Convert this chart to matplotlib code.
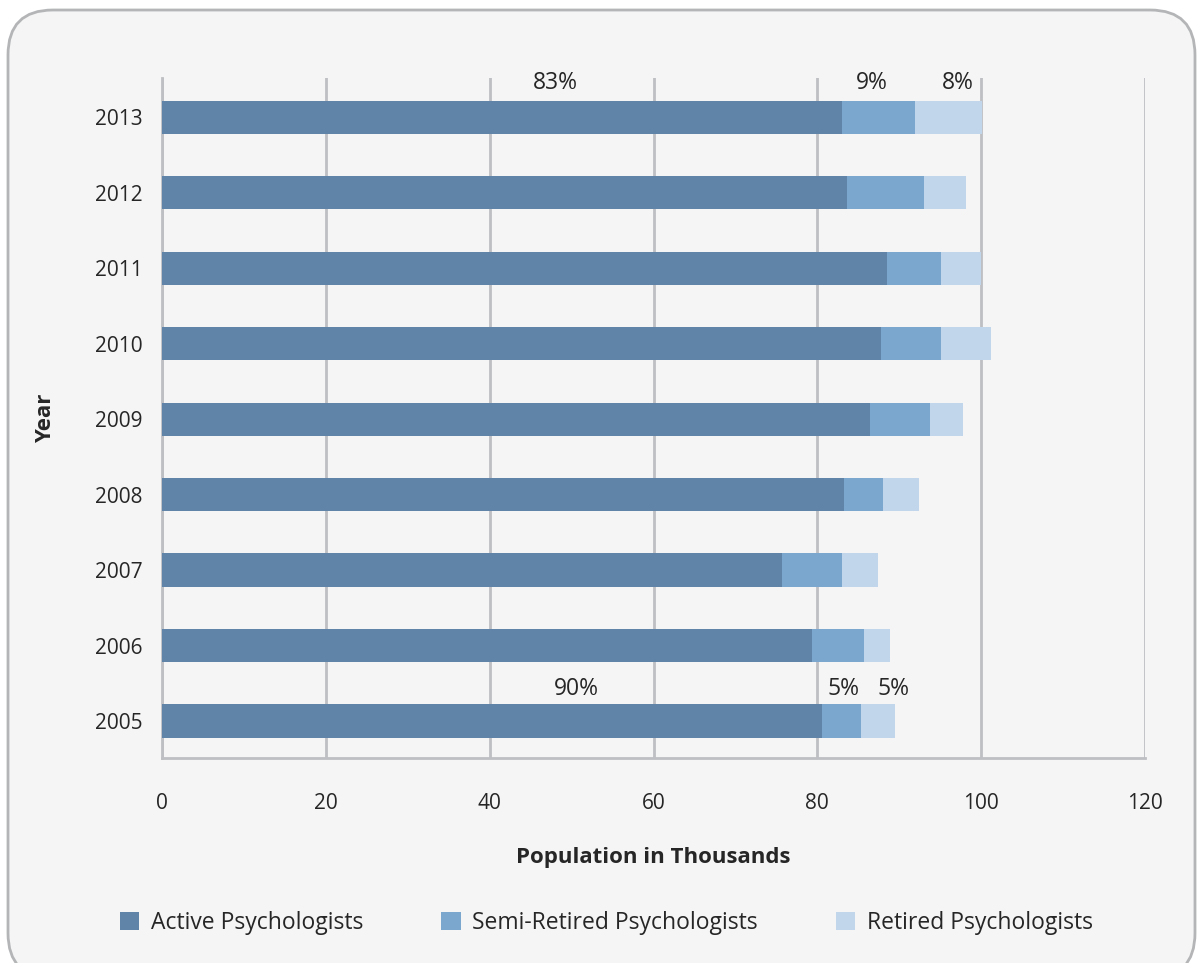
import matplotlib.pyplot as plt
from matplotlib.patches import FancyBboxPatch

# data (thousands)
years = ["2005", "2006", "2007", "2008", "2009", "2010", "2011", "2012", "2013"]
active = [80.6, 79.4, 75.7, 83.3, 86.4, 87.8, 88.5, 83.6, 83.0]
semi_retired = [4.7, 6.3, 7.3, 4.7, 7.3, 7.3, 6.6, 9.4, 8.9]
retired = [4.2, 3.2, 4.4, 4.4, 4.1, 6.1, 4.9, 5.2, 8.2]

# share labels shown above the first and last bars
pct_2005 = ["90%", "5%", "5%"]
pct_2005_x = [50.6, 83.2, 89.3]
pct_2013 = ["83%", "9%", "8%"]
pct_2013_x = [48.0, 86.7, 97.1]

col_active = "#5F84A8"
col_semi = "#7BA7CF"
col_ret = "#C1D6EA"
bg = "#F4F5F4"
grid_col = "#BEBFC2"
txt = "#262626"

plt.rcParams['font.family'] = ['Open Sans', 'DejaVu Sans']

fig = plt.figure(figsize=(11.98, 9.63), dpi=100)
fig.patch.set_facecolor("white")

# rounded panel behind the chart
panel = FancyBboxPatch((0.08, -0.15), 11.87, 9.68,
                       boxstyle="round,pad=0,rounding_size=0.45",
                       transform=fig.dpi_scale_trans,
                       facecolor=bg, edgecolor="#B4B5B7", linewidth=2, zorder=-10)
fig.patches.append(panel)

ax = fig.add_axes([162/1198, 1 - 758/963, (1145-162)/1198, (758-78)/963])
ax.set_facecolor("none")
ax.set_zorder(5)

pos = range(len(years))
h = 0.44
left2 = [a + s for a, s in zip(active, semi_retired)]
ax.barh(pos, active, height=h, color=col_active, label="Active Psychologists", zorder=3)
ax.barh(pos, semi_retired, left=active, height=h, color=col_semi,
        label="Semi-Retired Psychologists", zorder=3)
ax.barh(pos, retired, left=left2, height=h, color=col_ret,
        label="Retired Psychologists", zorder=3)

ax.set_xlim(0, 120)
ax.set_ylim(-0.49, 8.52)
ax.set_xticks(range(0, 121, 20))
ax.set_yticks(list(pos))
ax.set_yticklabels(years)
ax.tick_params(length=0, labelsize=15, colors=txt)
ax.tick_params(axis="x", pad=25)
ax.tick_params(axis="y", pad=14)

ax.xaxis.grid(True, color=grid_col, linewidth=2, zorder=1)
for s in ["top", "right"]:
    ax.spines[s].set_visible(False)
for s in ["left", "bottom"]:
    ax.spines[s].set_color(grid_col)
    ax.spines[s].set_linewidth(2)

for lab, x in zip(pct_2005, pct_2005_x):
    ax.text(x, 0 + 0.42, lab, ha="center", va="center", fontsize=16.5, color=txt)
for lab, x in zip(pct_2013, pct_2013_x):
    ax.text(x, 8 + 0.45, lab, ha="center", va="center", fontsize=16.5, color=txt)

ax.set_xlabel("Population in Thousands", fontsize=16, fontweight="bold", color=txt, labelpad=24)
ax.set_ylabel("Year", fontsize=16, fontweight="bold", color=txt, labelpad=28)

fig.legend(loc="center", bbox_to_anchor=(0.506, 1 - 923/963), ncol=3, frameon=False,
           fontsize=16.5, handlelength=0.85, handleheight=0.85, handletextpad=0.5,
           columnspacing=3.4, labelcolor=txt)

fig.savefig("out.png", dpi=100, facecolor=fig.get_facecolor())
